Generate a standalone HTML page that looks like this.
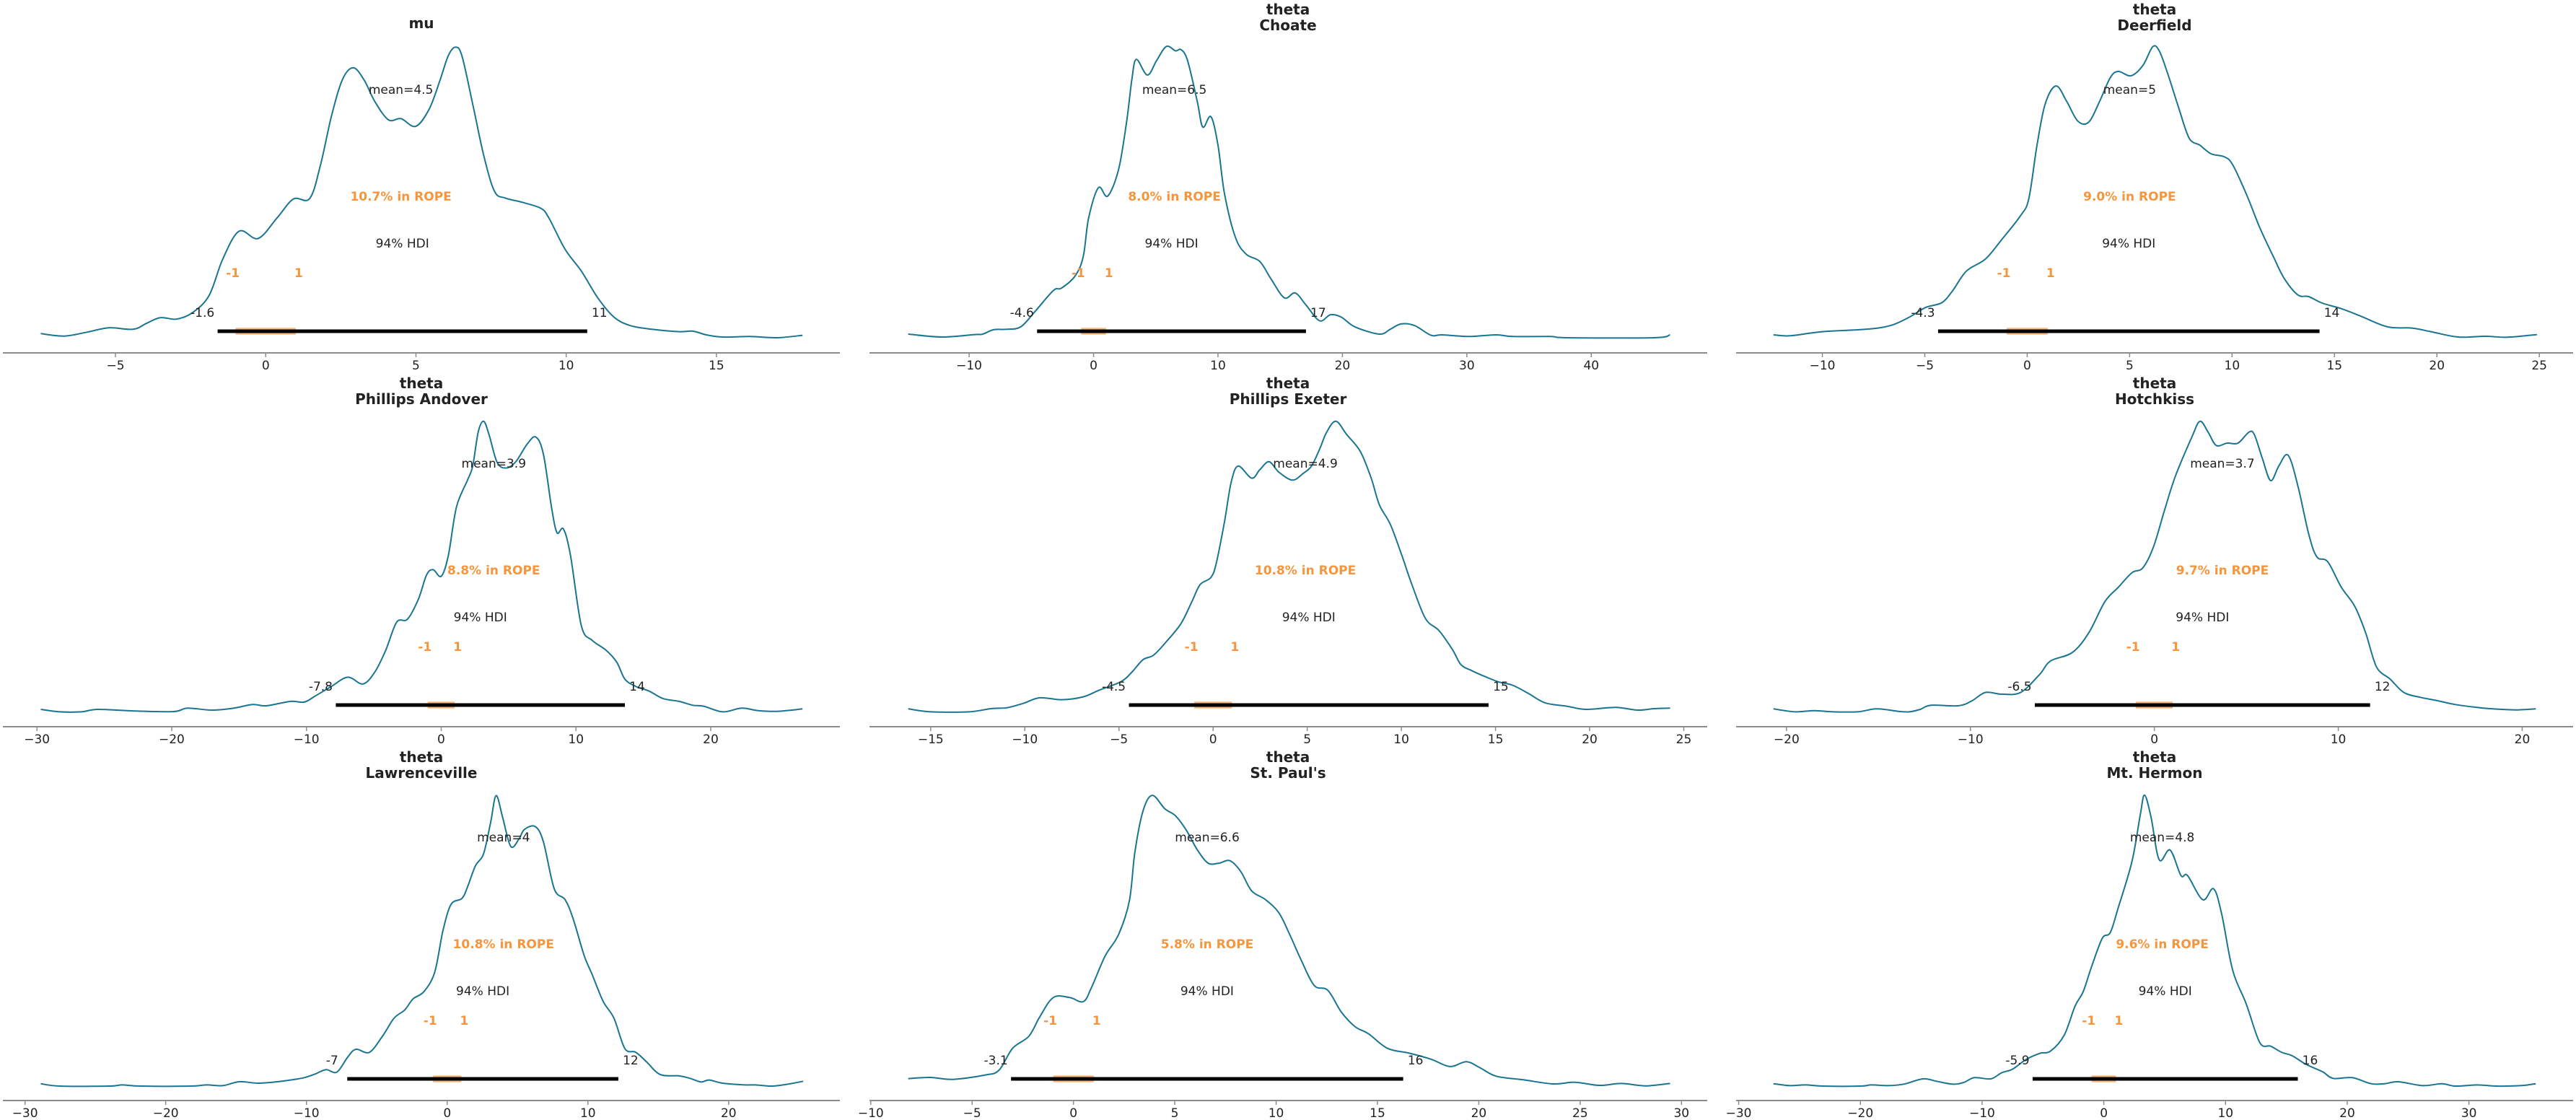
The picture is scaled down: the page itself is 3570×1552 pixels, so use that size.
<!DOCTYPE html>
<html><head><meta charset="utf-8">
<style>
html,body{margin:0;padding:0;background:#fff;}
svg{display:block;}
text{font-family:"DejaVu Sans","Liberation Sans",sans-serif;}
</style></head>
<body>
<svg id="s" width="3570" height="1552" xmlns="http://www.w3.org/2000/svg">
<g id="g">
<text x="584" y="39" font-size="20" font-weight="bold" text-anchor="middle" fill="#222">mu</text>
<text x="1785" y="20" font-size="20" font-weight="bold" text-anchor="middle" fill="#222">theta</text>
<text x="1785" y="42" font-size="20" font-weight="bold" text-anchor="middle" fill="#222">Choate</text>
<text x="2986" y="20" font-size="20" font-weight="bold" text-anchor="middle" fill="#222">theta</text>
<text x="2986" y="42" font-size="20" font-weight="bold" text-anchor="middle" fill="#222">Deerfield</text>
<text x="584" y="538" font-size="20" font-weight="bold" text-anchor="middle" fill="#222">theta</text>
<text x="584" y="560" font-size="20" font-weight="bold" text-anchor="middle" fill="#222">Phillips Andover</text>
<text x="1785" y="538" font-size="20" font-weight="bold" text-anchor="middle" fill="#222">theta</text>
<text x="1785" y="560" font-size="20" font-weight="bold" text-anchor="middle" fill="#222">Phillips Exeter</text>
<text x="2986" y="538" font-size="20" font-weight="bold" text-anchor="middle" fill="#222">theta</text>
<text x="2986" y="560" font-size="20" font-weight="bold" text-anchor="middle" fill="#222">Hotchkiss</text>
<text x="584" y="1056" font-size="20" font-weight="bold" text-anchor="middle" fill="#222">theta</text>
<text x="584" y="1078" font-size="20" font-weight="bold" text-anchor="middle" fill="#222">Lawrenceville</text>
<text x="1785" y="1056" font-size="20" font-weight="bold" text-anchor="middle" fill="#222">theta</text>
<text x="1785" y="1078" font-size="20" font-weight="bold" text-anchor="middle" fill="#222">St. Paul's</text>
<text x="2986" y="1056" font-size="20" font-weight="bold" text-anchor="middle" fill="#222">theta</text>
<text x="2986" y="1078" font-size="20" font-weight="bold" text-anchor="middle" fill="#222">Mt. Hermon</text>
</g>
</svg>
<script>
var NS="http://www.w3.org/2000/svg",G=document.getElementById("g");
function el(t,a,txt){var e=document.createElementNS(NS,t);for(var k in a)e.setAttribute(k,a[k]);if(txt!=null)e.textContent=txt;G.appendChild(e);return e;}
var SX=1180/1567,SY=520/1550;
var cols=[{X0:0,a:4,b:1164},{X0:1200,a:1205,b:2366},{X0:2390,a:2406,b:3566}];
var P=[
{c:0,r:0,Y0:0,z0:489,u:55.3,ticks:[-5,0,5,10,15],mean:4.5,ml:"mean=4.5",rope:"10.7% in ROPE",h:[-1.6,10.7],hl:["-1.6","11"],
pts:[[75,1378],[118,1388],[160,1372],[200,1354],[245,1360],[270,1335],[295,1312],[325,1318],[355,1290],[385,1220],[410,1070],[440,955],[475,985],[510,900],[540,822],[570,820],[590,680],[610,480],[630,330],[650,280],[670,330],[690,420],[715,495],[738,490],[765,522],[790,450],[810,330],[825,230],[838,195],[850,230],[870,430],[890,640],[910,790],[930,818],[960,835],[995,860],[1010,900],[1040,1030],[1070,1120],[1100,1230],[1130,1310],[1160,1345],[1200,1360],[1250,1370],[1275,1368],[1300,1383],[1330,1392],[1380,1390],[1430,1395],[1477,1385]]},
{c:1,r:0,Y0:0,z0:419,u:22.9,ticks:[-10,0,10,20,30,40],mean:6.5,ml:"mean=6.5",rope:"8.0% in ROPE",h:[-4.54,17.07],hl:["-4.6","17"],
pts:[[78,1380],[140,1392],[200,1382],[215,1380],[235,1362],[260,1360],[285,1350],[310,1290],[345,1200],[360,1190],[385,1140],[400,1060],[410,900],[428,775],[445,810],[465,700],[480,500],[490,320],[498,245],[518,310],[535,250],[553,192],[570,210],[580,205],[592,250],[610,420],[620,525],[635,482],[648,600],[660,800],[680,980],[700,1050],[725,1080],[745,1150],[770,1230],[790,1210],[810,1260],[835,1325],[855,1300],[875,1310],[900,1350],[945,1380],[965,1360],[985,1338],[1010,1345],[1040,1385],[1060,1383],[1110,1390],[1160,1383],[1190,1390],[1260,1390],[1290,1395],[1450,1395],[1480,1383]]},
{c:2,r:0,Y0:0,z0:557,u:37.7,ticks:[-10,-5,0,5,10,15,20,25],mean:5,ml:"mean=5",rope:"9.0% in ROPE",h:[-4.35,14.27],hl:["-4.3","14"],
pts:[[90,1383],[120,1387],[180,1370],[260,1360],[305,1345],[340,1310],[370,1270],[400,1250],[420,1200],[445,1120],[480,1070],[510,990],[545,890],[560,820],[575,600],[590,430],[610,355],[630,420],[650,500],[670,505],[690,420],[710,320],[725,295],[748,313],[770,270],[788,193],[800,210],[815,300],[835,440],[855,570],[875,600],[895,635],[920,648],[935,680],[960,800],[985,940],[1010,1060],[1030,1150],[1055,1218],[1075,1225],[1100,1252],[1135,1275],[1170,1305],[1220,1350],[1265,1355],[1300,1370],[1350,1392],[1400,1389],[1440,1393],[1495,1382]]},
{c:0,r:1,Y0:515,z0:812,u:24.8,ticks:[-30,-20,-10,0,10,20],mean:3.9,ml:"mean=3.9",rope:"8.8% in ROPE",h:[-7.82,13.63],hl:["-7.8","14"],
pts:[[75,1395],[110,1405],[150,1405],[180,1395],[250,1402],[320,1404],[345,1390],[390,1398],[430,1390],[465,1375],[490,1380],[535,1362],[560,1365],[580,1340],[610,1300],[640,1262],[668,1290],[690,1240],[710,1150],[730,1035],[750,1022],[770,940],[785,840],[797,818],[812,845],[825,760],[840,560],[860,450],[870,390],[880,250],[890,205],[900,260],[915,375],[932,398],[950,370],[970,300],[986,270],[1000,340],[1015,560],[1025,665],[1037,650],[1050,760],[1070,1050],[1090,1110],[1115,1150],[1135,1200],[1150,1270],[1170,1300],[1195,1320],[1220,1350],[1250,1362],[1275,1378],[1295,1382],[1330,1405],[1365,1390],[1395,1400],[1430,1403],[1477,1393]]},
{c:1,r:1,Y0:515,z0:639,u:34.65,ticks:[-15,-10,-5,0,5,10,15,20,25],mean:4.9,ml:"mean=4.9",rope:"10.8% in ROPE",h:[-4.47,14.63],hl:["-4.5","15"],
pts:[[78,1393],[120,1405],[190,1405],[230,1392],[260,1388],[290,1370],[320,1347],[360,1355],[400,1343],[430,1315],[470,1280],[490,1240],[510,1190],[530,1170],[555,1110],[580,1040],[600,950],[615,880],[635,850],[645,790],[660,620],[672,460],[685,390],[710,440],[725,405],[742,372],[760,415],[785,448],[805,420],[820,390],[835,320],[848,250],[865,205],[885,260],[910,330],[930,440],[945,550],[965,630],[985,750],[1005,880],[1030,1020],[1055,1070],[1080,1150],[1095,1210],[1115,1235],[1140,1260],[1165,1282],[1190,1295],[1220,1330],[1250,1368],[1290,1382],[1325,1395],[1380,1387],[1420,1398],[1450,1392],[1480,1390]]},
{c:2,r:1,Y0:515,z0:791,u:33.85,ticks:[-20,-10,0,10,20],mean:3.7,ml:"mean=3.7",rope:"9.7% in ROPE",h:[-6.5,11.73],hl:["-6.5","12"],
pts:[[90,1393],[130,1405],[165,1400],[200,1405],[245,1405],[280,1393],[320,1403],[340,1405],[360,1395],[380,1378],[430,1380],[455,1360],[480,1325],[510,1332],[545,1325],[580,1250],[600,1195],[640,1160],[670,1080],[700,950],[725,890],[750,830],[770,810],[790,720],[810,570],[830,430],[860,270],[875,205],[890,250],[905,305],[925,295],[945,295],[965,250],[975,260],[990,360],[1005,450],[1020,390],[1037,345],[1055,470],[1075,670],[1090,765],[1110,785],[1135,890],[1160,970],[1180,1080],[1200,1220],[1225,1270],[1250,1325],[1280,1345],[1310,1358],[1345,1375],[1390,1388],[1430,1395],[1460,1397],[1493,1393]]},
{c:0,r:2,Y0:1032,z0:823,u:25.9,ticks:[-30,-20,-10,0,10,20],mean:4,ml:"mean=4",rope:"10.8% in ROPE",h:[-7.1,12.16],hl:["-7","12"],
pts:[[75,1400],[110,1410],[200,1410],[225,1405],[260,1410],[350,1410],[380,1405],[410,1408],[440,1392],[475,1398],[510,1392],[540,1383],[560,1375],[580,1360],[600,1342],[620,1352],[640,1290],[655,1258],[680,1270],[705,1200],[725,1130],[745,1095],[760,1050],[780,1020],[800,940],[815,770],[830,660],[850,635],[860,590],[875,500],[890,450],[903,320],[913,210],[925,300],[940,420],[955,390],[965,350],[985,338],[1000,400],[1020,595],[1040,640],[1055,720],[1075,870],[1090,950],[1110,1060],[1130,1130],[1150,1255],[1170,1270],[1190,1310],[1215,1362],[1250,1368],[1270,1378],[1290,1393],[1305,1385],[1330,1398],[1370,1405],[1390,1405],[1420,1410],[1450,1402],[1478,1390]]},
{c:1,r:2,Y0:1030,z0:382,u:37.3,ticks:[-10,-5,0,5,10,15,20,25,30],mean:6.6,ml:"mean=6.6",rope:"5.8% in ROPE",h:[-3.08,16.27],hl:["-3.1","16"],
pts:[[78,1385],[118,1380],[160,1388],[220,1370],[245,1350],[270,1260],[300,1210],[320,1130],[345,1050],[375,1050],[400,1067],[415,1010],[440,880],[465,790],[485,650],[495,450],[510,280],[527,215],[550,270],[570,300],[590,360],[610,440],[630,495],[650,495],[670,485],[690,530],[710,610],[735,645],[760,700],[780,790],[800,890],[825,1000],[850,1020],[875,1110],[900,1170],[925,1200],[960,1260],[1000,1280],[1040,1305],[1075,1335],[1105,1315],[1130,1340],[1160,1375],[1210,1390],[1265,1407],[1305,1400],[1350,1413],[1390,1405],[1435,1415],[1480,1405]]},
{c:2,r:2,Y0:1032,z0:698,u:22.4,ticks:[-30,-20,-10,0,10,20,30],mean:4.8,ml:"mean=4.8",rope:"9.6% in ROPE",h:[-5.85,15.94],hl:["-5.9","16"],
pts:[[90,1400],[120,1408],[150,1405],[180,1410],[250,1410],[270,1405],[300,1408],[330,1402],[365,1380],[390,1390],[420,1402],[440,1395],[460,1375],[490,1380],[510,1355],[530,1340],[555,1300],[580,1275],[600,1265],[625,1200],[645,1080],[660,1020],[675,920],[695,800],[710,775],[725,670],[750,480],[765,290],[773,208],[785,300],[800,475],[820,435],[840,540],[852,540],[880,640],[900,595],[915,700],[935,930],[960,1070],[985,1230],[1005,1245],[1025,1270],[1045,1285],[1070,1320],[1100,1350],[1120,1378],[1155,1375],[1190,1400],[1215,1400],[1240,1392],[1285,1408],[1320,1400],[1345,1410],[1385,1405],[1420,1410],[1465,1408],[1493,1400]]}
];
var OR="#f5953c";
P.forEach(function(p){
  var C=cols[p.c],R=p.r*518;
  function X(v){return C.X0+(p.z0+v*p.u)*SX;}
  var axY=489+R;
  el("line",{x1:C.a,x2:C.b,y1:axY,y2:axY,stroke:"#8c8c8c","stroke-width":2});
  p.ticks.forEach(function(t){var x=X(t);
    el("line",{x1:x,x2:x,y1:axY,y2:axY+6,stroke:"#8c8c8c","stroke-width":1.5});
    el("text",{x:x,y:axY+23,"font-size":17,"text-anchor":"middle",fill:"#222"},String(t).replace("-","\u2212"));});
  var q=p.pts.map(function(a){return [C.X0+a[0]*SX,p.Y0+a[1]*SY];});
  var d="M"+q[0][0].toFixed(1)+","+q[0][1].toFixed(1);
  for(var i=0;i<q.length-1;i++){
    var p0=q[i>0?i-1:i],p1=q[i],p2=q[i+1],p3=q[i+2<q.length?i+2:i+1];
    var c1x=p1[0]+(p2[0]-p0[0])/6,c1y=p1[1]+(p2[1]-p0[1])/6,c2x=p2[0]-(p3[0]-p1[0])/6,c2y=p2[1]-(p3[1]-p1[1])/6;
    d+=" C"+c1x.toFixed(1)+","+c1y.toFixed(1)+" "+c2x.toFixed(1)+","+c2y.toFixed(1)+" "+p2[0].toFixed(1)+","+p2[1].toFixed(1);
  }
  var barY=459+R;
  el("rect",{x:X(-1),y:barY-4.7,width:X(1)-X(-1),height:9.4,fill:"#f9b57a"});
  el("line",{x1:X(p.h[0]),x2:X(p.h[1]),y1:barY,y2:barY,stroke:"#000","stroke-width":5});
  el("path",{d:d,fill:"none",stroke:"#1a7590","stroke-width":2,"stroke-linejoin":"round"});
  el("text",{x:X(p.mean),y:130+R,"font-size":17,"text-anchor":"middle",fill:"#222"},p.ml);
  el("text",{x:X(p.mean),y:278+R,"font-size":17,"font-weight":"bold","text-anchor":"middle",fill:OR},p.rope);
  el("text",{x:X((p.h[0]+p.h[1])/2),y:343+R,"font-size":17,"text-anchor":"middle",fill:"#222"},"94% HDI");
  el("text",{x:X(-1)-4,y:384+R,"font-size":17,"font-weight":"bold","text-anchor":"middle",fill:OR},"-1");
  el("text",{x:X(1)+4,y:384+R,"font-size":17,"font-weight":"bold","text-anchor":"middle",fill:OR},"1");
  el("text",{x:X(p.h[0])-21,y:439+R,"font-size":17,"text-anchor":"middle",fill:"#222"},p.hl[0]);
  el("text",{x:X(p.h[1])+17,y:439+R,"font-size":17,"text-anchor":"middle",fill:"#222"},p.hl[1]);
});
</script>
</body></html>
